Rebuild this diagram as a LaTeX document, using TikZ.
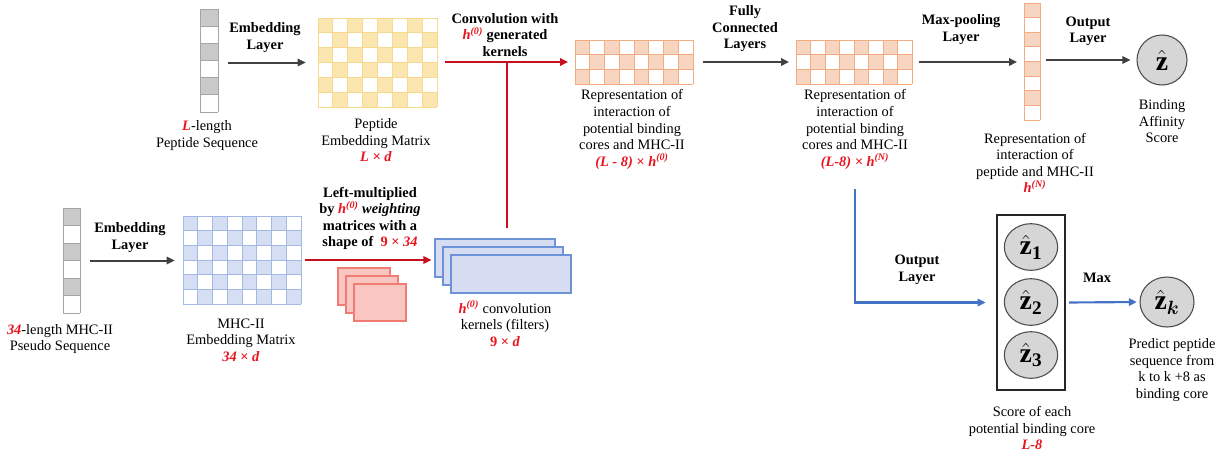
\documentclass[tikz,border=0pt]{standalone}
\usepackage{amsmath}
\usepackage{fontspec}
\setmainfont{Liberation Serif}
\usetikzlibrary{arrows.meta,shapes.geometric,fit}
\definecolor{dgray}{HTML}{404040}
\definecolor{tred}{RGB}{232,20,30}
\definecolor{lred}{RGB}{200,16,30}
\definecolor{lblue}{HTML}{4472C4}
\definecolor{cgray}{HTML}{C9C9C9}
\definecolor{cgrayd}{HTML}{A5A5A5}
\definecolor{cyel}{HTML}{FBE6B0}
\definecolor{cyeld}{HTML}{F7DA90}
\definecolor{corg}{HTML}{F8D5C0}
\definecolor{corgd}{HTML}{F2AC82}
\definecolor{cblu}{HTML}{D5DEF3}
\definecolor{cblud}{HTML}{A3B8E5}
\definecolor{kfill}{HTML}{D6DDF2}
\definecolor{kdraw}{HTML}{6E92D8}
\definecolor{wfill}{HTML}{F9C6C2}
\definecolor{wdraw}{HTML}{F07C74}
\definecolor{zfill}{HTML}{D6D6D6}
\newcommand\mygrid[9]{%
  \foreach \ii in {1,...,#3}{\foreach \jj in {1,...,#4}{%
    \pgfmathtruncatemacro\mypp{mod(\ii+\jj+#9,2)}%
    \ifnum\mypp=0 \fill[#7] ({#1+(\ii-1)*#5},{#2+(\jj-1)*#6}) rectangle ++(#5,#6);\fi
  }}%
  \foreach \ii in {0,...,#3} \draw[#8,line width=0.6pt] ({#1+\ii*#5},#2) -- ++(0,{#4*#6});
  \foreach \jj in {0,...,#4} \draw[#8,line width=0.6pt] (#1,{#2+\jj*#6}) -- ++({#3*#5},0);
}
\newcommand\rtxt[1]{\textcolor{tred}{\textbf{\textit{#1}}}}
\newcommand\rbf[1]{\textcolor{tred}{\textbf{#1}}}
\newcommand\hsup[1]{\rtxt{h}\textsuperscript{\rtxt{(#1)}}}
\newcommand\zh{\hat{\mathbf{z}}}
\tikzset{
  lbl/.style={align=center, inner sep=0, font=\fontsize{10.8}{12.4}\selectfont},
  blbl/.style={align=center, inner sep=0, font=\fontsize{10.8}{12.4}\selectfont\bfseries},
  darr/.style={draw=dgray, line width=1.5pt, -{Triangle[length=6pt,width=5.5pt]}},
  rarr/.style={draw=lred, line width=1.8pt, -{Triangle[length=6pt,width=5.5pt]}},
  rline/.style={draw=lred, line width=1.8pt},
  barr/.style={draw=lblue, line width=1.6pt, -{Triangle[length=6pt,width=5.5pt]}},
  fitbox/.style={inner sep=0},
  kern/.style={fill=kfill, draw=kdraw, line width=1.3pt, inner sep=0},
  wmat/.style={fill=wfill, draw=wdraw, line width=1.3pt, inner sep=0},
  zc/.style={ellipse, fill=zfill, draw=black!70, line width=0.8pt, inner sep=0, font=\huge}
}
\begin{document}
\begin{tikzpicture}[x=0.75pt,y=-0.75pt]
\useasboundingbox[fill=white] (0,0) rectangle (1226,455);

% ---- top row matrices ----
\mygrid{200}{9}{1}{6}{18}{17.17}{cgray}{cgrayd}{0}
\node[fitbox, fit={(200,9)(218,112)}] (pseq) {};
\mygrid{318}{18}{8}{6}{14.875}{14.83}{cyel}{cyeld}{0}
\node[fitbox, fit={(318,18)(437,107)}] (pem) {};
\mygrid{575}{40}{8}{3}{14.75}{14.67}{corg}{corgd}{0}
\node[fitbox, fit={(575,40)(693,84)}] (rep1) {};
\mygrid{796}{40}{8}{3}{14.5}{14.67}{corg}{corgd}{0}
\node[fitbox, fit={(796,40)(912,84)}] (rep2) {};
\mygrid{1024}{3}{1}{8}{16}{14.625}{corg}{corgd}{0}
\node[fitbox, fit={(1024,3)(1040,120)}] (col) {};
\node[zc, minimum width=37.5pt, minimum height=37.5pt] (z) at (1162,60) {$\zh$};

% ---- bottom row ----
\mygrid{63}{208}{1}{6}{17}{17.5}{cgray}{cgrayd}{0}
\node[fitbox, fit={(63,208)(80,313)}] (mseq) {};
\mygrid{183}{216}{8}{6}{14.75}{14.67}{cblu}{cblud}{0}
\node[fitbox, fit={(183,216)(301,304)}] (mem) {};

\node[wmat, fit={(338,268)(390,305)}] (w1) {};
\node[wmat, fit={(346,276)(398,313)}] (w2) {};
\node[wmat, fit={(354,284)(406,321)}] (w3) {};

\node[kern, fit={(435,239)(555,277)}] (k1) {};
\node[kern, fit={(443,247)(563,285)}] (k2) {};
\node[kern, fit={(451,255)(571,293)}] (k3) {};

\node[draw=black!85, line width=2pt, fitbox, fit={(997,215)(1065,390)}] (box) {};
\node[zc, minimum width=40pt, minimum height=35pt] (z1) at (1031,247) {$\zh_{\mathbf{1}}$};
\node[zc, minimum width=40pt, minimum height=35pt] (z2) at (1031,302) {$\zh_{\mathbf{2}}$};
\node[zc, minimum width=40pt, minimum height=35pt] (z3) at (1031,355) {$\zh_{\mathbf{3}}$};
\node[zc, minimum width=40.5pt, minimum height=37.5pt] (zk) at (1167,302) {$\zh_{\boldsymbol{k}}$};

% ---- labels ----
\node[blbl] (tEmb1) at (265,37.5) {Embedding\\Layer};
\node[lbl] (tPepSeq) at (207,135.5) {\rtxt{L}-length\\Peptide Sequence};
\node[lbl] (tPepEmb) at (376,140.5) {Peptide\\Embedding Matrix\\\rtxt{L × d}};
\node[blbl] (tConv) at (505,35) {Convolution with\\\hsup{0} generated\\kernels};
\node[lbl] (tRep1) at (632,129.5) {Representation of\\interaction of\\potential binding\\cores and MHC-II\\\rtxt{(L - 8) × }\hsup{0}};
\node[blbl] (tFC) at (745,29) {Fully\\Connected\\Layers};
\node[lbl] (tRep2) at (855,129.5) {Representation of\\interaction of\\potential binding\\cores and MHC-II\\\rtxt{(L-8) × }\hsup{N}};
\node[blbl] (tMP) at (961,29.5) {Max-pooling\\Layer};
\node[lbl] (tRep3) at (1035,163) {Representation of\\interaction of\\peptide and MHC-II\\\hsup{N}};
\node[blbl] (tOut) at (1088,31.5) {Output\\Layer};
\node[lbl] (tBAS) at (1162,121.5) {Binding\\Affinity\\Score};

\node[lbl] (tMHCSeq) at (60,339) {\rtxt{34}-length MHC-II\\Pseudo Sequence};
\node[blbl] (tEmb2) at (130,237.5) {Embedding\\Layer};
\node[lbl] (tMHCEmb) at (241,340) {MHC-II\\Embedding Matrix\\\rtxt{34 }\rbf{× }\rtxt{d}};
\node[blbl] (tLeft) at (370,218.5) {Left-multiplied\\by \hsup{0} \textit{weighting}\\matrices with a\\shape of \ \rbf{9 × }\rtxt{34}};
\node[lbl] (tKer) at (505,323.5) {\hsup{0} convolution\\kernels (filters)\\\rbf{9 × }\rtxt{d}};
\node[blbl] (tOut2) at (917,270) {Output\\Layer};
\node[blbl] (tMax) at (1097,278) {Max};
\node[lbl] (tPred) at (1172,370) {Predict peptide\\sequence from\\k to k +8 as\\binding core};
\node[lbl] (tScore) at (1032,428) {Score of each\\potential binding core\\\rtxt{L-8}};

% ---- connectors ----
\draw[darr, shorten <=7.5pt, shorten >=9pt] (pseq.east |- pem.west) -- (pem.west);
\draw[rarr, shorten <=6pt, shorten >=5pt] (pem.east |- rep1.west) -- (rep1.west);
\coordinate (cj) at (507,62);
\draw[rline] ([yshift=7.5pt]k1.north -| cj) -- (cj);
\draw[darr, shorten <=7pt, shorten >=5pt] (rep1.east) -- (rep2.west);
\draw[darr, shorten <=5pt, shorten >=5pt] (rep2.east) -- (rep2.east -| col.west);
\draw[darr, shorten <=4.5pt, shorten >=4.5pt] (col.east |- z.west) -- (z.west);
\draw[darr, shorten <=7pt, shorten >=6pt] (mseq.east) -- (mseq.east -| mem.west);
\draw[rarr, shorten <=3pt, shorten >=2pt] (mem.east) -- (mem.east -| k1.west);
\draw[barr, shorten >=7.5pt] ([yshift=-15pt]tRep2.south) |- (box.west);
\draw[barr, shorten <=2pt, shorten >=2pt] (box.east) -- (zk.west);
\end{tikzpicture}
\end{document}
